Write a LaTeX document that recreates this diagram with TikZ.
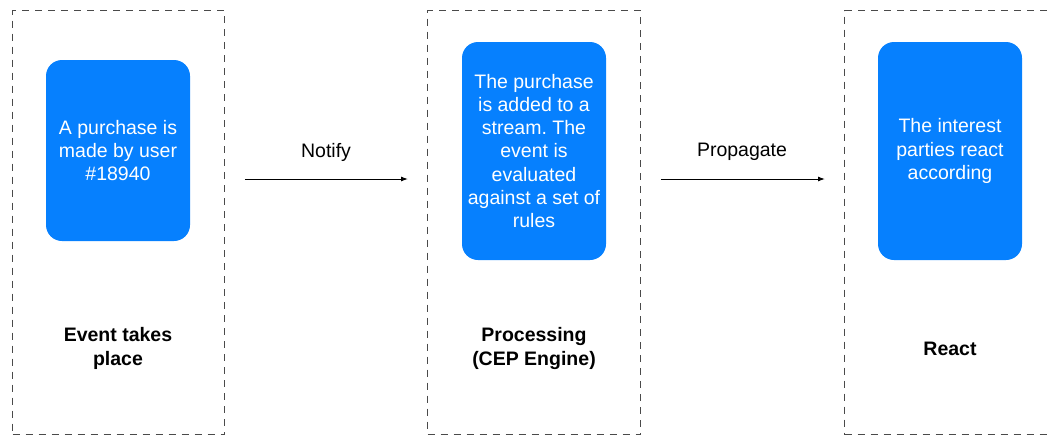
\documentclass[tikz,border=0pt]{standalone}
\usepackage{fontspec}
\setmainfont{Liberation Sans}
\usetikzlibrary{arrows.meta}
\definecolor{cblue}{HTML}{0680FE}
\definecolor{dgray}{HTML}{4A4A4A}
\frenchspacing
\begin{document}
\begin{tikzpicture}[x=1pt,y=-1pt,
  lane/.style={draw=dgray, line width=1.4pt, dash pattern=on 7pt off 6pt,
    minimum height=424pt, inner sep=0pt, anchor=north west},
  card/.style={fill=cblue, rounded corners=16pt, text=white, align=center,
    minimum width=144pt, inner sep=0pt, font=\fontsize{19.5}{23.3}\selectfont},
  title/.style={align=center, font=\fontsize{19.5}{23.3}\selectfont\bfseries},
  lbl/.style={font=\fontsize{19.5}{23.3}\selectfont},
  arr/.style={line width=1pt, -{Latex[length=7pt,width=5pt]}, shorten <=19.5pt, shorten >=19pt}]
\useasboundingbox (0,0) rectangle (1051,437);
\node[lane, minimum width=212pt] (lane1) at (12,10) {};
\node[lane, minimum width=213pt] (lane2) at (427,10) {};
\node[lane, minimum width=240pt] (lane3) at (844,10) {};

\node[card, minimum height=181pt] (c1) at (118,150.5) {A purchase is\\made by user\\\#18940};
\node[card, minimum height=218pt] (c2) at (534,151) {The purchase\\is added to a\\stream. The\\event is\\evaluated\\against a set of\\rules};
\node[card, minimum height=218pt] (c3) at (950,151) {The interest\\parties react\\according};

\node[title] (t1) at (118,348.5) {Event takes\\place};
\node[title] (t2) at (534,348.5) {Processing\\(CEP Engine)};
\node[title] (t3) at (950,348.5) {React};

\draw[arr] (lane1.east |- 0,179) -- (lane2.west |- 0,179);
\draw[arr] (lane2.east |- 0,179) -- (lane3.west |- 0,179);
\node[lbl] (n1) at (326,152) {Notify};
\node[lbl] (n2) at (742,152) {Propagate};
\end{tikzpicture}
\end{document}
